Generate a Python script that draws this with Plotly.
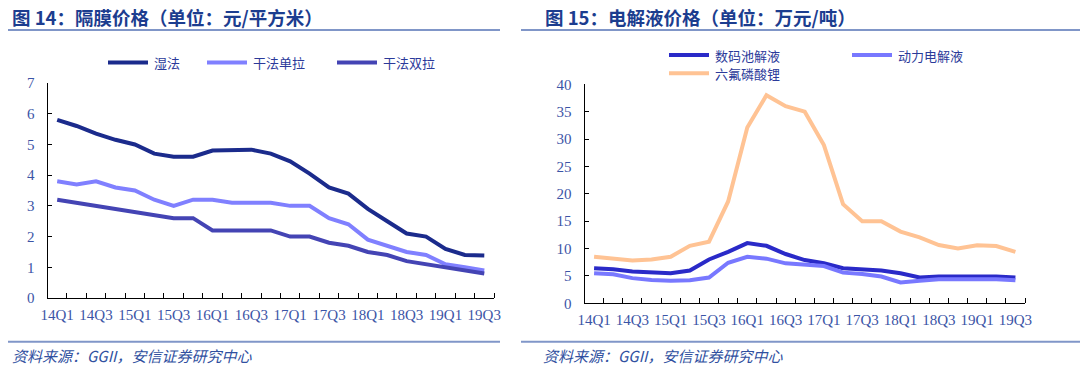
import plotly.graph_objects as go

W, H = 1080, 376

quarters = ["14Q1", "14Q2", "14Q3", "14Q4", "15Q1", "15Q2", "15Q3", "15Q4",
            "16Q1", "16Q2", "16Q3", "16Q4", "17Q1", "17Q2", "17Q3", "17Q4",
            "18Q1", "18Q2", "18Q3", "18Q4", "19Q1", "19Q2", "19Q3"]

# Figure 14: separator prices (yuan / m2)
wet = [5.8, 5.6, 5.35, 5.15, 5.0, 4.7, 4.6, 4.6, 4.8, 4.8, 4.83, 4.7,
       4.45, 4.05, 3.6, 3.4, 2.9, 2.5, 2.1, 2.0, 1.6, 1.4, 1.38]
dry_single = [3.8, 3.7, 3.8, 3.6, 3.5, 3.2, 3.0, 3.2, 3.2, 3.1, 3.1, 3.1,
              3.0, 3.0, 2.6, 2.4, 1.9, 1.7, 1.5, 1.4, 1.1, 1.0, 0.9]
dry_double = [3.2, 3.1, 3.0, 2.9, 2.8, 2.7, 2.6, 2.6, 2.2, 2.2, 2.2, 2.2,
              2.0, 2.0, 1.8, 1.7, 1.5, 1.4, 1.2, 1.1, 1.0, 0.9, 0.8]

# Figure 15: electrolyte prices (10k yuan / ton)
digital = [6.4, 6.2, 5.8, 5.6, 5.5, 6.0, 8.0, 9.4, 11.0, 10.5, 9.0, 7.9,
           7.3, 6.4, 6.2, 6.0, 5.5, 4.7, 4.9, 4.9, 4.9, 4.9, 4.7]
power = [5.5, 5.3, 4.6, 4.25, 4.1, 4.2, 4.7, 7.4, 8.5, 8.15, 7.3, 7.0,
         6.8, 5.6, 5.35, 4.9, 3.8, 4.1, 4.4, 4.4, 4.4, 4.4, 4.2]
lipf6 = [8.5, 8.2, 7.8, 8.0, 8.5, 10.5, 11.25, 18.6, 32.1, 38.0, 36.0, 35.0,
         28.9, 18.1, 15.0, 15.0, 13.1, 12.05, 10.65, 10.0, 10.6, 10.45, 9.4]

left_names = ["湿法", "干法单拉", "干法双拉"]
right_names = ["数码池解液", "动力电解液", "六氟磷酸锂"]
left_colors = ["#1B2B8C", "#8080FF", "#4444B4"]
right_colors = ["#2A2AC8", "#7878FF", "#FFC394"]

tick_text_vals = list(range(0, len(quarters), 2))
tick_text = [quarters[i] for i in tick_text_vals]
boundaries = [i - 0.5 for i in range(len(quarters) + 1)]
xs = list(range(len(quarters)))

TICK_COLOR = "#3B54A6"
TITLE_COLOR = "#1C3D8F"
RULE_COLOR = "#8096C8"
tick_font = dict(family="Liberation Serif, DejaVu Serif, serif", size=15, color=TICK_COLOR)
cjk = "Noto Sans CJK SC"

fig = go.Figure()
for name, vals, col in zip(left_names, [wet, dry_single, dry_double], left_colors):
    fig.add_trace(go.Scatter(x=xs, y=vals, mode="lines", name=name,
                             line=dict(color=col, width=4), xaxis="x", yaxis="y",
                             showlegend=False))
for name, vals, col in zip(right_names, [digital, power, lipf6], right_colors):
    fig.add_trace(go.Scatter(x=xs, y=vals, mode="lines", name=name,
                             line=dict(color=col, width=4), xaxis="x2", yaxis="y2",
                             showlegend=False))


def px_x(p):
    return p / W


def px_y(p):
    return 1 - p / H


def xaxis_cfg(dom):
    return dict(domain=dom, range=[-0.5, len(quarters) - 0.5], showgrid=False,
                zeroline=False, showline=True, linecolor="#000000", linewidth=1,
                tickmode="array", tickvals=tick_text_vals, ticktext=tick_text,
                ticks="", tickfont=tick_font, ticklabelstandoff=3,
                automargin=False,
                minor=dict(tickmode="array", tickvals=boundaries, ticks="inside",
                           ticklen=5, tickcolor="#000000", tickwidth=1, showgrid=False),
                fixedrange=True)


def yaxis_cfg(dom, rng, dt, anchor):
    return dict(domain=dom, range=rng, dtick=dt, tick0=0, showgrid=False,
                zeroline=False, showline=True, linecolor="#000000", linewidth=1,
                ticks="inside", ticklen=4, tickcolor="#000000",
                tickfont=tick_font, ticklabelstandoff=9, anchor=anchor,
                automargin=False, fixedrange=True)


fig.update_layout(
    width=W, height=H, autosize=False,
    margin=dict(l=0, r=0, t=0, b=0),
    paper_bgcolor="white", plot_bgcolor="white",
    hovermode=False,
    xaxis=dict(**xaxis_cfg([px_x(47.5), px_x(494)]), anchor="y"),
    yaxis=yaxis_cfg([px_y(298), px_y(83)], [0, 7], 1, "x"),
    xaxis2=dict(**xaxis_cfg([px_x(584.5), px_x(1025)]), anchor="y2"),
    yaxis2=yaxis_cfg([px_y(303.3), px_y(84.3)], [0, 40], 5, "x2"),
)

shapes = []
annotations = []

# titles and rules
titles = [("图 14：隔膜价格（单位：元/平方米）", 10),
          ("图 15：电解液价格（单位：万元/吨）", 543)]
for txt, x0 in titles:
    annotations.append(dict(text="<b>" + txt + "</b>", xref="paper", yref="paper",
                            x=px_x(x0), y=px_y(17), xanchor="left", yanchor="middle",
                            showarrow=False,
                            font=dict(family=cjk, size=18.5, color=TITLE_COLOR)))
for (x0, x1) in [(8, 500), (521, 1080)]:
    for yy in (30, 341.7):
        shapes.append(dict(type="line", xref="paper", yref="paper",
                           x0=px_x(x0), x1=px_x(x1), y0=px_y(yy), y1=px_y(yy),
                           line=dict(color=RULE_COLOR, width=2)))

for x0 in (10, 541):
    annotations.append(dict(text="<i>资料来源：GGII，安信证券研究中心</i>",
                            xref="paper", yref="paper", x=px_x(x0), y=px_y(355),
                            xanchor="left", yanchor="middle", showarrow=False,
                            font=dict(family=cjk, size=15, color="#3050A0")))

# legends
leg_items = [
    (left_names[0], left_colors[0], 108, 62.5),
    (left_names[1], left_colors[1], 207, 62.5),
    (left_names[2], left_colors[2], 337, 62.5),
    (right_names[0], right_colors[0], 669, 55),
    (right_names[1], right_colors[1], 852, 55),
    (right_names[2], right_colors[2], 669, 73.3),
]
for name, col, lx, ly in leg_items:
    shapes.append(dict(type="line", xref="paper", yref="paper",
                       x0=px_x(lx), x1=px_x(lx + 40), y0=px_y(ly), y1=px_y(ly),
                       line=dict(color=col, width=4)))
    annotations.append(dict(text=name, xref="paper", yref="paper",
                            x=px_x(lx + 44), y=px_y(ly), xanchor="left",
                            yanchor="middle", showarrow=False,
                            font=dict(family=cjk, size=13, color="#2B3A9A")))

fig.update_layout(shapes=shapes, annotations=annotations)
fig.write_html("out.html", config={"displayModeBar": False, "staticPlot": True},
               post_script="document.body.style.margin='0';document.body.style.overflow='hidden';")
